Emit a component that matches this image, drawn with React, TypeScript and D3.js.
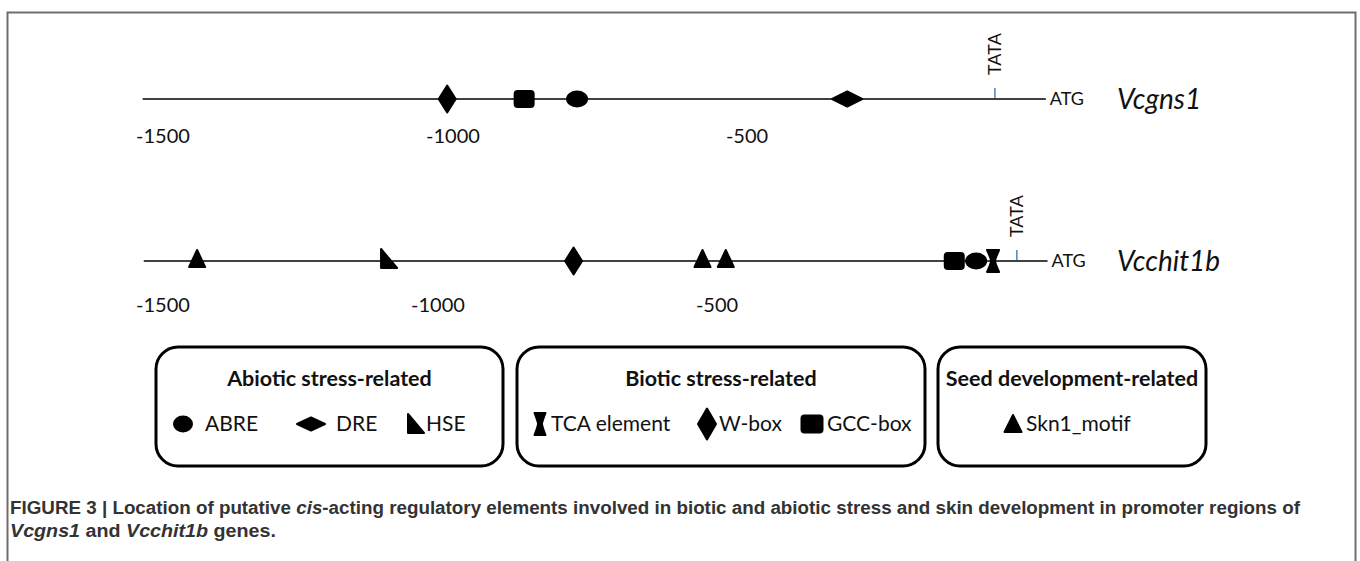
import React from "react";
import * as d3 from "d3";

// ---------- data ----------
const genes = ["Vcgns1", "Vcchit1b"];
const tickValues = [-1500, -1000, -500];
const tickLabels = ["-1500", "-1000", "-500"];
const lineExtent = [-1535, 28];

const vcgns1Elements = [
  { type: "W-box", pos: -1010 },
  { type: "GCC-box", pos: -879 },
  { type: "ABRE", pos: -789 },
  { type: "DRE", pos: -323 },
];
const vcgns1Tata = -62;

const vcchit1bElements = [
  { type: "Skn1_motif", pos: -1438 },
  { type: "HSE", pos: -1089 },
  { type: "W-box", pos: -757 },
  { type: "Skn1_motif", pos: -526 },
  { type: "Skn1_motif", pos: -486 },
  { type: "GCC-box", pos: -121 },
  { type: "ABRE", pos: -86 },
  { type: "TCA element", pos: -59 },
];
const vcchit1bTata = -21;

const legendGroups = [
  { title: "Abiotic stress-related", items: ["ABRE", "DRE", "HSE"] },
  { title: "Biotic stress-related", items: ["TCA element", "W-box", "GCC-box"] },
  { title: "Seed development-related", items: ["Skn1_motif"] },
];

const captionLine1 = [
  { t: "FIGURE 3 | Location of putative ", i: false },
  { t: "cis", i: true },
  { t: "-acting regulatory elements involved in biotic and abiotic stress and skin development in promoter regions of", i: false },
];
const captionLine2 = [
  { t: "Vcgns1", i: true },
  { t: " and ", i: false },
  { t: "Vcchit1b", i: true },
  { t: " genes.", i: false },
];

// ---------- layout ----------
const W = 1360;
const H = 561;
const FONT = "Lato, 'Open Sans', sans-serif";

const rows = [
  {
    name: genes[0],
    y: 99,
    labelY: 143,
    elements: vcgns1Elements,
    tata: vcgns1Tata,
    x: d3.scaleLinear().domain([-1500, -1000, -500, 0]).range([163, 453, 747, 1030]),
  },
  {
    name: genes[1],
    y: 261,
    labelY: 312,
    elements: vcchit1bElements,
    tata: vcchit1bTata,
    x: d3.scaleLinear().domain([-1500, -1000, -500, 0]).range([163, 438, 717, 1030]),
  },
];

const legendBoxes = [
  { x0: 156, x1: 503, itemX: [183, 311, 416], textX: [205, 336, 426] },
  { x0: 517, x1: 925, itemX: [540, 707, 812], textX: [551, 719, 827] },
  { x0: 938, x1: 1206, itemX: [1013], textX: [1026] },
];

// ---------- shapes ----------
function shapePath(type: string, legend: boolean): string {
  const p = d3.path();
  switch (type) {
    case "W-box": {
      const w = legend ? 18 : 17, h = legend ? 31 : 27;
      p.moveTo(0, -h / 2); p.lineTo(w / 2, 0); p.lineTo(0, h / 2); p.lineTo(-w / 2, 0); p.closePath();
      break;
    }
    case "DRE": {
      const w = legend ? 28 : 30, h = legend ? 13 : 15;
      p.moveTo(-w / 2, 0); p.lineTo(0, -h / 2); p.lineTo(w / 2, 0); p.lineTo(0, h / 2); p.closePath();
      break;
    }
    case "GCC-box": {
      const w = legend ? 21 : 19, h = legend ? 17 : 16, r = 3;
      p.moveTo(-w / 2 + r, -h / 2);
      p.lineTo(w / 2 - r, -h / 2); p.quadraticCurveTo(w / 2, -h / 2, w / 2, -h / 2 + r);
      p.lineTo(w / 2, h / 2 - r); p.quadraticCurveTo(w / 2, h / 2, w / 2 - r, h / 2);
      p.lineTo(-w / 2 + r, h / 2); p.quadraticCurveTo(-w / 2, h / 2, -w / 2, h / 2 - r);
      p.lineTo(-w / 2, -h / 2 + r); p.quadraticCurveTo(-w / 2, -h / 2, -w / 2 + r, -h / 2);
      p.closePath();
      break;
    }
    case "ABRE": {
      const rx = legend ? 9 : 10, ry = 7.5;
      const k = 0.5523;
      p.moveTo(rx, 0);
      p.bezierCurveTo(rx, ry * k, rx * k, ry, 0, ry);
      p.bezierCurveTo(-rx * k, ry, -rx, ry * k, -rx, 0);
      p.bezierCurveTo(-rx, -ry * k, -rx * k, -ry, 0, -ry);
      p.bezierCurveTo(rx * k, -ry, rx, -ry * k, rx, 0);
      p.closePath();
      break;
    }
    case "Skn1_motif": {
      const w = legend ? 17 : 16, top = legend ? -9 : -11, bot = legend ? 8 : 6;
      p.moveTo(0, top); p.lineTo(w / 2, bot); p.lineTo(-w / 2, bot); p.closePath();
      break;
    }
    case "HSE": {
      const w = 16, top = legend ? -10 : -12, bot = legend ? 9 : 7;
      p.moveTo(-w / 2, top); p.lineTo(w / 2, bot); p.lineTo(-w / 2, bot); p.closePath();
      break;
    }
    case "TCA element": {
      const w = legend ? 11 : 12, h = 22, n = 2;
      p.moveTo(-w / 2, -h / 2); p.lineTo(w / 2, -h / 2);
      p.quadraticCurveTo(n, -2, n, 0); p.quadraticCurveTo(n, 2, w / 2, h / 2);
      p.lineTo(-w / 2, h / 2);
      p.quadraticCurveTo(-n, 2, -n, 0); p.quadraticCurveTo(-n, -2, -w / 2, -h / 2);
      p.closePath();
      break;
    }
  }
  return p.toString();
}

function Shape({ type, x, y, legend }: { type: string; x: number; y: number; legend: boolean }) {
  return (
    <path
      d={shapePath(type, legend)}
      transform={`translate(${x},${y})`}
      fill="#000"
      stroke="#000"
      strokeWidth={2}
      strokeLinejoin="round"
    />
  );
}

export default function App() {
  return (
    <svg
      width={W}
      height={H}
      viewBox={`0 0 ${W} ${H}`}
      style={{ position: "absolute", left: 0, top: 0, background: "#fff" }}
    >
      <rect x={0} y={0} width={W} height={H} fill="#fff" />
      {/* outer frame */}
      <path d={`M7.5,${H} V12.5 H1355.5 V${H}`} fill="none" stroke="#6e6e6e" strokeWidth={2} />

      {rows.map((row) => {
        const x0 = row.x(lineExtent[0]);
        const x1 = row.x(lineExtent[1]);
        const tx = row.x(row.tata);
        return (
          <g key={row.name}>
            <line x1={x0} x2={x1} y1={row.y} y2={row.y} stroke="#000" strokeWidth={1.5} />
            <line x1={tx} x2={tx} y1={row.y - 11} y2={row.y - 1} stroke="#4f81bd" strokeWidth={1.5} />
            <text
              transform={`translate(${tx + 6},${row.y - 24}) rotate(-90)`}
              fontFamily={FONT}
              fontSize={18}
              fill="#111"
            >
              TATA
            </text>
            {row.elements.map((e, i) => (
              <Shape key={i} type={e.type} x={row.x(e.pos)} y={row.y} legend={false} />
            ))}
            <text x={x1 + 4} y={row.y + 6} fontFamily={FONT} fontSize={18} fill="#111">
              ATG
            </text>
            <text x={1117} y={row.y + 10} fontFamily={FONT} fontSize={28} fontStyle="italic" fill="#111">
              {row.name}
            </text>
            {tickValues.map((v, i) => (
              <text
                key={v}
                x={row.x(v)}
                y={row.labelY}
                textAnchor="middle"
                fontFamily={FONT}
                fontSize={20}
                fill="#111"
              >
                {tickLabels[i]}
              </text>
            ))}
          </g>
        );
      })}

      {legendGroups.map((g, gi) => {
        const b = legendBoxes[gi];
        return (
          <g key={g.title}>
            <rect
              x={b.x0}
              y={347}
              width={b.x1 - b.x0}
              height={119}
              rx={22}
              ry={22}
              fill="#fff"
              stroke="#000"
              strokeWidth={3}
            />
            <text
              x={(b.x0 + b.x1) / 2}
              y={386}
              textAnchor="middle"
              fontFamily={FONT}
              fontWeight="bold"
              fontSize={21.5}
              fill="#111"
            >
              {g.title}
            </text>
            {g.items.map((it, i) => (
              <g key={it}>
                <Shape type={it} x={b.itemX[i]} y={424} legend={true} />
                <text x={b.textX[i]} y={431} fontFamily={FONT} fontSize={21} fill="#111">
                  {it}
                </text>
              </g>
            ))}
          </g>
        );
      })}

      <text
        x={10}
        y={514}
        fontFamily="'Liberation Sans', Arial, sans-serif"
        fontWeight="bold"
        fontSize={17.5}
        fill="#333"
        textLength={1290}
        lengthAdjust="spacingAndGlyphs"
      >
        {captionLine1.map((s, i) => (
          <tspan key={i} fontStyle={s.i ? "italic" : "normal"}>
            {s.t}
          </tspan>
        ))}
      </text>
      <text
        x={10}
        y={537}
        fontFamily="'Liberation Sans', Arial, sans-serif"
        fontWeight="bold"
        fontSize={17.5}
        fill="#333"
        textLength={266}
        lengthAdjust="spacingAndGlyphs"
      >
        {captionLine2.map((s, i) => (
          <tspan key={i} fontStyle={s.i ? "italic" : "normal"}>
            {s.t}
          </tspan>
        ))}
      </text>
    </svg>
  );
}
